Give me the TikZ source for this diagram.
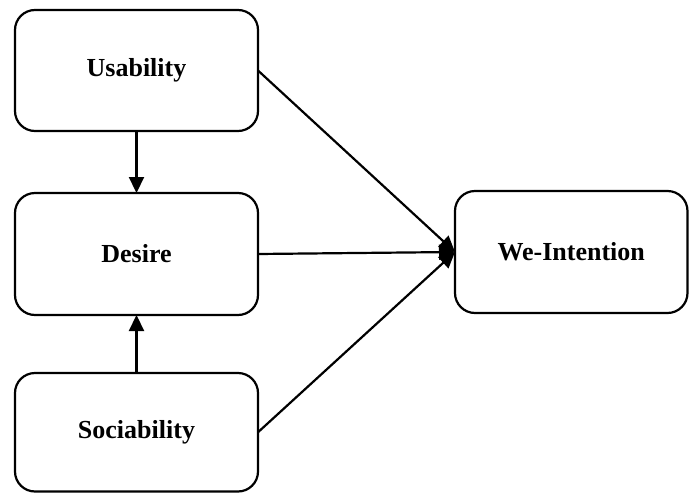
\documentclass[tikz,border=0pt]{standalone}
\usepackage{fontspec}
\setmainfont{Liberation Serif}
\usetikzlibrary{arrows.meta}
\tikzset{
  box/.style={draw, line width=2.2pt, rounded corners=20pt, inner sep=0pt, outer sep=0pt,
    minimum width=243pt, font=\fontsize{26}{30}\selectfont\bfseries},
  conn/.style={line width=2.2pt, -{Triangle[length=16pt,width=15pt]}},
}
\begin{document}
\begin{tikzpicture}[x=1pt,y=-1pt]
\useasboundingbox (0,0) rectangle (689,493);
\node[box, minimum height=121pt] (usa) at (136.5,70.5) {Usability};
\node[box, minimum height=122pt] (des) at (136.5,254) {Desire};
\node[box, minimum height=118.5pt] (soc) at (136.5,432.25) {Sociability};
\node[box, minimum width=232.5pt, minimum height=122pt] (we) at (571.25,252) {We-Intention};
\draw[conn] (usa.south) -- (des.north);
\draw[conn] (soc.north) -- (des.south);
\draw[conn] (usa.east) -- (we.west);
\draw[conn] (des.east) -- (we.west);
\draw[conn] (soc.east) -- (we.west);
\end{tikzpicture}
\end{document}
